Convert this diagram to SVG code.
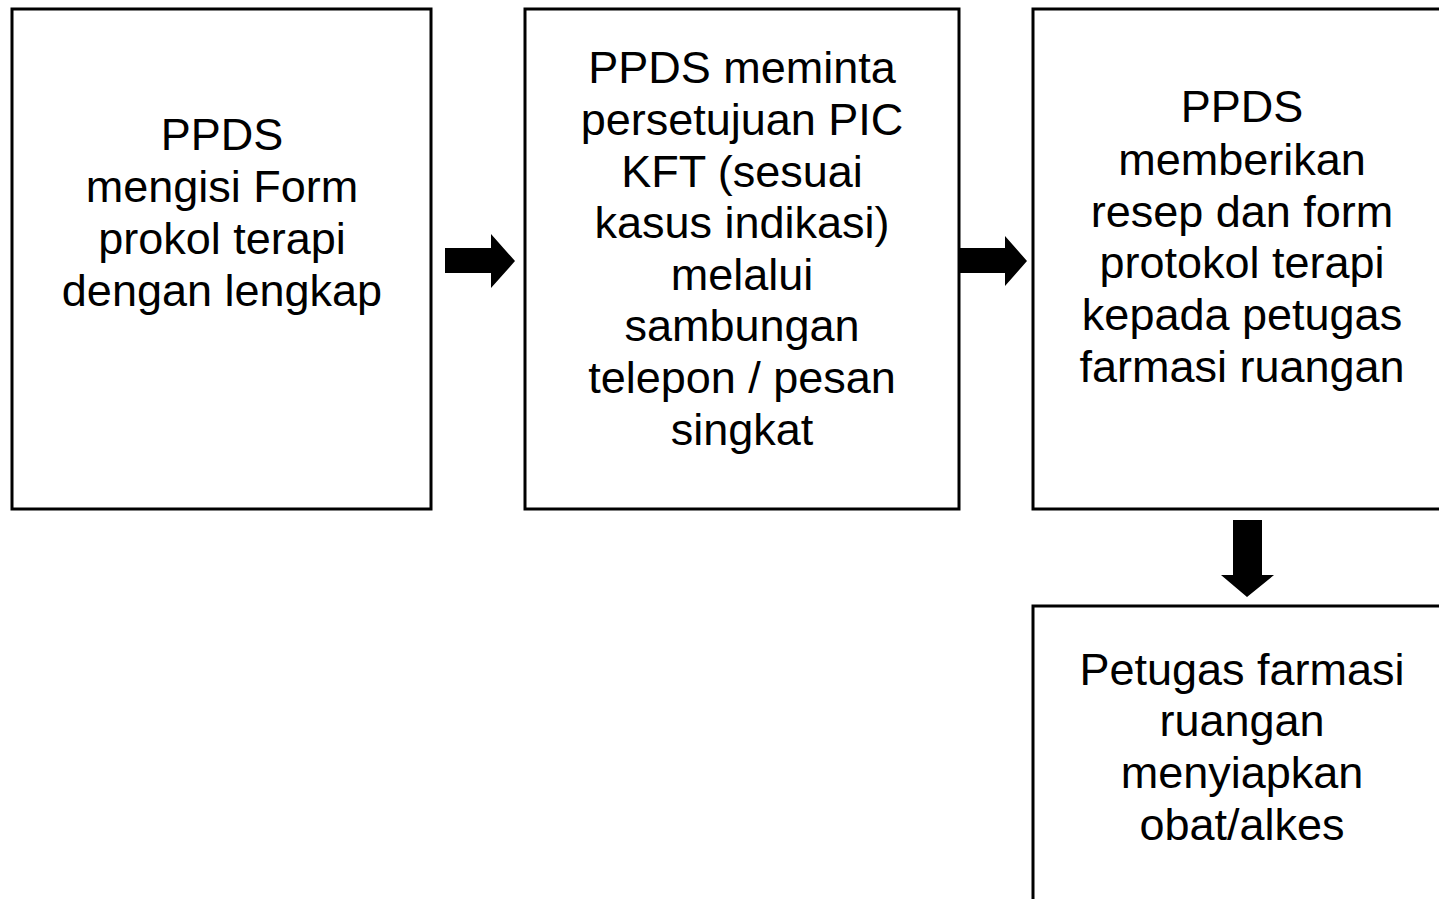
<svg xmlns="http://www.w3.org/2000/svg" width="1439" height="899" viewBox="0 0 1439 899">
<style>
.box{fill:#fff;stroke:#000;stroke-width:3}
.t{font-family:"Liberation Sans",Arial,sans-serif;font-size:45px;fill:#000;text-anchor:middle}
.arr{fill:#000}
</style>
<rect width="1439" height="899" fill="#fff"/>
<g id="node1">
<rect class="box" x="12" y="9" width="419" height="500"/>
<text class="t"><tspan x="222" y="150">PPDS</tspan><tspan x="222" y="202">mengisi Form</tspan><tspan x="222" y="254">prokol terapi</tspan><tspan x="222" y="306">dengan lengkap</tspan></text>
</g>
<g id="node2">
<rect class="box" x="525" y="9" width="434" height="500"/>
<text class="t"><tspan x="742" y="83">PPDS meminta</tspan><tspan x="742" y="135">persetujuan PIC</tspan><tspan x="742" y="187">KFT (sesuai</tspan><tspan x="742" y="238">kasus indikasi)</tspan><tspan x="742" y="290">melalui</tspan><tspan x="742" y="341">sambungan</tspan><tspan x="742" y="393">telepon / pesan</tspan><tspan x="742" y="445">singkat</tspan></text>
</g>
<g id="node3">
<rect class="box" x="1033" y="9" width="420" height="500"/>
<text class="t"><tspan x="1242" y="122">PPDS</tspan><tspan x="1242" y="175">memberikan</tspan><tspan x="1242" y="227">resep dan form</tspan><tspan x="1242" y="278">protokol terapi</tspan><tspan x="1242" y="330">kepada petugas</tspan><tspan x="1242" y="382">farmasi ruangan</tspan></text>
</g>
<g id="node4">
<rect class="box" x="1033" y="606" width="420" height="310"/>
<text class="t"><tspan x="1242" y="685">Petugas farmasi</tspan><tspan x="1242" y="736">ruangan</tspan><tspan x="1242" y="788">menyiapkan</tspan><tspan x="1242" y="840">obat/alkes</tspan></text>
</g>
<g id="connectors">
<polygon class="arr" points="445,248 491,248 491,234 515,261 491,288 491,273 445,273"/>
<polygon class="arr" points="959,248 1005,248 1005,236 1027,261 1005,286 1005,273 959,273"/>
<polygon class="arr" points="1233,520 1262,520 1262,575 1274,575 1247,597 1221,575 1233,575"/>
</g>
</svg>
